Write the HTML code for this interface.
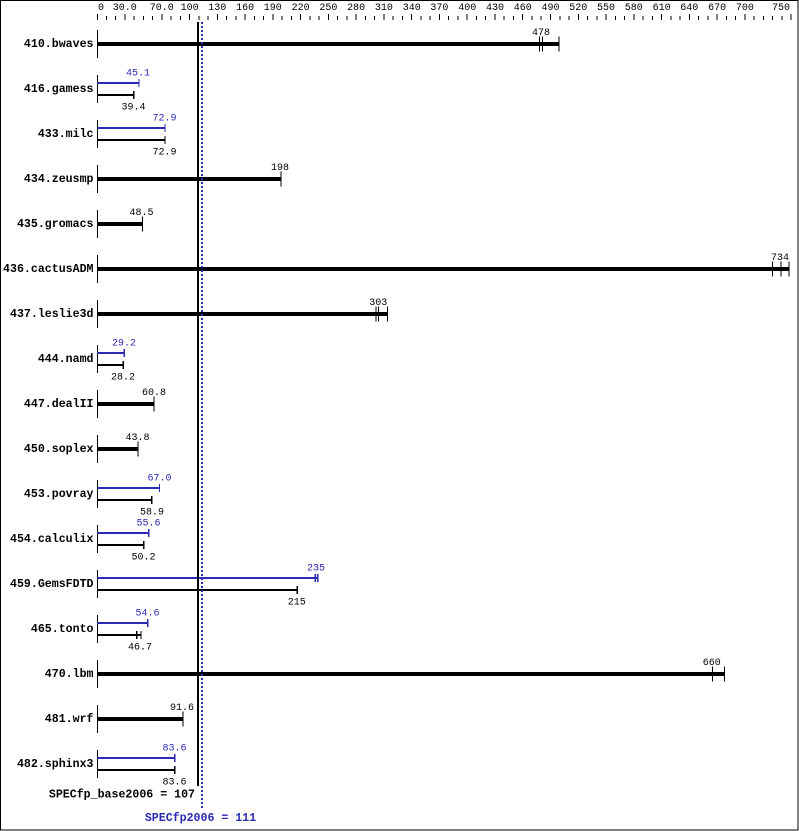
<!DOCTYPE html>
<html><head><meta charset="utf-8"><style>
html,body{margin:0;padding:0;background:#fff}
svg{display:block}
.t{font-family:"Liberation Mono","DejaVu Sans Mono",monospace;font-size:10px;fill:#000}
.b{font-family:"Liberation Mono","DejaVu Sans Mono",monospace;font-size:11.6px;font-weight:bold;fill:#000}
.bl{fill:#2a2ab4}
</style></head><body>
<svg width="799" height="831" viewBox="0 0 799 831" xmlns="http://www.w3.org/2000/svg">
<rect x="0.5" y="0.5" width="797.5" height="829.5" fill="#fff" stroke="#000" stroke-width="1" shape-rendering="crispEdges"/>
<!-- axis ticks -->
<g stroke="#000" stroke-width="1" shape-rendering="crispEdges">
<path d="M97.5 14V20M124.8 14V20M161.8 14V20M189.6 14V20M217.3 14V20M245.1 14V20M272.8 14V20M300.6 14V20M328.4 14V20M356.1 14V20M383.9 14V20M411.7 14V20M439.4 14V20M467.2 14V20M495 14V20M522.7 14V20M550.5 14V20M578.3 14V20M606 14V20M633.8 14V20M661.6 14V20M689.3 14V20M717.1 14V20M744.9 14V20M791.1 14V20"/>
<path d="M106.3 16V20M115.5 16V20M134 16V20M143.3 16V20M152.5 16V20M171 16V20M180.3 16V20M198.8 16V20M208.1 16V20M226.6 16V20M235.8 16V20M254.3 16V20M263.6 16V20M282.1 16V20M291.4 16V20M309.9 16V20M319.1 16V20M337.6 16V20M346.9 16V20M365.4 16V20M374.7 16V20M393.2 16V20M402.4 16V20M420.9 16V20M430.2 16V20M448.7 16V20M457.9 16V20M476.5 16V20M485.7 16V20M504.2 16V20M513.5 16V20M532 16V20M541.2 16V20M559.8 16V20M569 16V20M587.5 16V20M596.8 16V20M615.3 16V20M624.5 16V20M643 16V20M652.3 16V20M670.8 16V20M680.1 16V20M698.6 16V20M707.8 16V20M726.3 16V20M735.6 16V20M754.1 16V20M763.4 16V20M772.6 16V20M781.9 16V20"/>
</g>
<g class="t" text-anchor="middle">
<text x="101" y="10">0</text>
<text x="124.8" y="10">30.0</text>
<text x="161.8" y="10">70.0</text>
<text x="189.6" y="10">100</text>
<text x="217.3" y="10">130</text>
<text x="245.1" y="10">160</text>
<text x="272.8" y="10">190</text>
<text x="300.6" y="10">220</text>
<text x="328.4" y="10">250</text>
<text x="356.1" y="10">280</text>
<text x="383.9" y="10">310</text>
<text x="411.7" y="10">340</text>
<text x="439.4" y="10">370</text>
<text x="467.2" y="10">400</text>
<text x="495" y="10">430</text>
<text x="522.7" y="10">460</text>
<text x="550.5" y="10">490</text>
<text x="578.3" y="10">520</text>
<text x="606" y="10">550</text>
<text x="633.8" y="10">580</text>
<text x="661.6" y="10">610</text>
<text x="689.3" y="10">640</text>
<text x="717.1" y="10">670</text>
<text x="744.9" y="10">700</text>
<text x="790" y="10" text-anchor="end">750</text>
</g>

<!-- left axis row ticks -->
<g stroke="#000" stroke-width="1" shape-rendering="crispEdges">
<path d="M97.5 30V58M97.5 75V103M97.5 120V148M97.5 165V193M97.5 210V238M97.5 255V283M97.5 300V328M97.5 345V373M97.5 390V418M97.5 435V463M97.5 480V508M97.5 525V553M97.5 570V598M97.5 615V643M97.5 660V688M97.5 705V733M97.5 750V778"/>
</g>

<!-- thick single bars -->
<g fill="#000" shape-rendering="crispEdges">
<rect x="97" y="42" width="462" height="4"/>
<rect x="97" y="177" width="184" height="4"/>
<rect x="97" y="222" width="45.5" height="4"/>
<rect x="97" y="267" width="692" height="4"/>
<rect x="97" y="312" width="290.3" height="4"/>
<rect x="97" y="402" width="57" height="4"/>
<rect x="97" y="447" width="41" height="4"/>
<rect x="97" y="672" width="627.3" height="4"/>
<rect x="97" y="717" width="86" height="4"/>
</g>
<g stroke="#000" stroke-width="1" shape-rendering="crispEdges">
<path d="M539.5 36.5V51.5M542.5 36.5V51.5M559 36.5V51.5"/>
<path d="M281 171.5V186.5"/>
<path d="M142.5 216.5V231.5"/>
<path d="M772.7 261.5V276.5M781 261.5V276.5M789 261.5V276.5"/>
<path d="M376 306.5V321.5M378.7 306.5V321.5M387.3 306.5V321.5"/>
<path d="M154 396.5V411.5"/>
<path d="M138 441.5V456.5"/>
<path d="M712.3 666.5V681.5M724.3 666.5V681.5"/>
<path d="M183 711.5V726.5"/>
</g>
<g class="t" text-anchor="middle">
<text x="541" y="35">478</text>
<text x="280" y="170">198</text>
<text x="141.5" y="215">48.5</text>
<text x="780" y="260">734</text>
<text x="378.3" y="305">303</text>
<text x="154" y="395">60.8</text>
<text x="137.5" y="440">43.8</text>
<text x="711.7" y="665">660</text>
<text x="182" y="710">91.6</text>
</g>

<!-- peak (blue) bars -->
<g fill="#2a2ab4" shape-rendering="crispEdges">
<rect x="97" y="82" width="42" height="2"/>
<rect x="97" y="127" width="68" height="2"/>
<rect x="97" y="352" width="27.2" height="2"/>
<rect x="97" y="487" width="62.4" height="2"/>
<rect x="97" y="532" width="51.8" height="2"/>
<rect x="97" y="577" width="220.7" height="2"/>
<rect x="97" y="622" width="50.8" height="2"/>
<rect x="97" y="757" width="77.8" height="2"/>
</g>
<g stroke="#2a2ab4" stroke-width="1.3" shape-rendering="crispEdges">
<path d="M139 79V87M165 124V132M124.2 349V357M159.4 484V492M148.8 529V537M315.3 574V582M317.7 574V582M147.8 619V627M174.8 754V762"/>
</g>
<!-- base (black) thin bars -->
<g fill="#000" shape-rendering="crispEdges">
<rect x="97" y="94" width="36.7" height="2"/>
<rect x="97" y="139" width="68" height="2"/>
<rect x="97" y="364" width="26.3" height="2"/>
<rect x="97" y="499" width="54.8" height="2"/>
<rect x="97" y="544" width="46.7" height="2"/>
<rect x="97" y="589" width="200.2" height="2"/>
<rect x="97" y="634" width="44" height="2"/>
<rect x="97" y="769" width="77.8" height="2"/>
</g>
<g stroke="#000" stroke-width="1.3" shape-rendering="crispEdges">
<path d="M133.7 91V99M165 136V144M123.3 361V369M151.8 496V504M143.7 541V549M297.2 586V594M136.7 631V639M141 631V639M174.8 766V774"/>
</g>
<g class="t bl" text-anchor="middle">
<text x="138" y="75.5">45.1</text>
<text x="164.5" y="120.5">72.9</text>
<text x="124" y="345.5">29.2</text>
<text x="159.5" y="480.5">67.0</text>
<text x="148.5" y="525.5">55.6</text>
<text x="316" y="570.5">235</text>
<text x="147.5" y="615.5">54.6</text>
<text x="174.5" y="750.5">83.6</text>
</g>
<g class="t" text-anchor="middle">
<text x="133.5" y="109.5">39.4</text>
<text x="164.5" y="154.5">72.9</text>
<text x="123" y="379.5">28.2</text>
<text x="152" y="514.5">58.9</text>
<text x="143.5" y="559.5">50.2</text>
<text x="296.7" y="604.5">215</text>
<text x="140" y="649.5">46.7</text>
<text x="174.5" y="784.5">83.6</text>
</g>

<!-- benchmark labels -->
<g class="b" text-anchor="end">
<text x="93.5" y="47">410.bwaves</text>
<text x="93.5" y="92">416.gamess</text>
<text x="93.5" y="137">433.milc</text>
<text x="93.5" y="182">434.zeusmp</text>
<text x="93.5" y="227">435.gromacs</text>
<text x="93.5" y="272">436.cactusADM</text>
<text x="93.5" y="317">437.leslie3d</text>
<text x="93.5" y="362">444.namd</text>
<text x="93.5" y="407">447.dealII</text>
<text x="93.5" y="452">450.soplex</text>
<text x="93.5" y="497">453.povray</text>
<text x="93.5" y="542">454.calculix</text>
<text x="93.5" y="587">459.GemsFDTD</text>
<text x="93.5" y="632">465.tonto</text>
<text x="93.5" y="677">470.lbm</text>
<text x="93.5" y="722">481.wrf</text>
<text x="93.5" y="767">482.sphinx3</text>
</g>

<!-- reference lines -->
<rect x="197" y="22" width="2" height="764" fill="#000" shape-rendering="crispEdges"/>
<line x1="202" y1="22" x2="202" y2="808" stroke="#2a2ab4" stroke-width="2" stroke-dasharray="2 2" shape-rendering="crispEdges"/>

<text class="b" x="195" y="797.5" text-anchor="end">SPECfp_base2006 = 107</text>
<text class="b bl" x="200.5" y="821" text-anchor="middle">SPECfp2006 = 111</text>
</svg>
</body></html>
